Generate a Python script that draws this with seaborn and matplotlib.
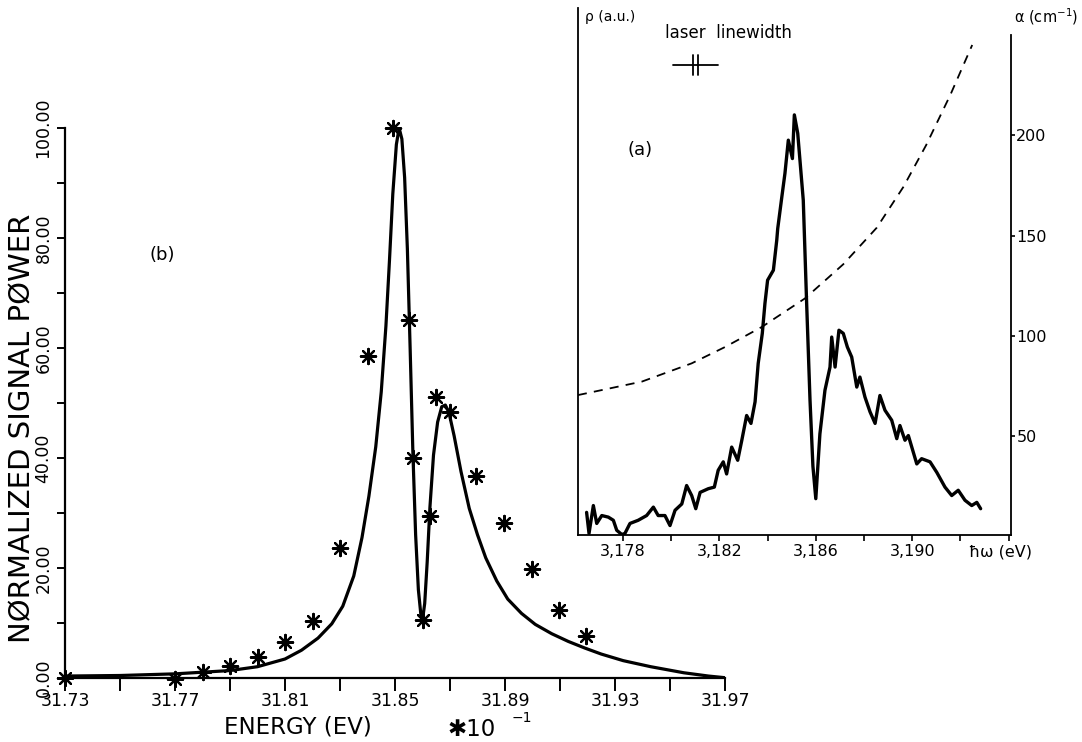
import matplotlib
matplotlib.use("Agg")
import matplotlib.pyplot as plt
import seaborn as sns
from matplotlib.lines import Line2D

# (b) fitted normalized signal power (solid curve)
fit_energy = [31.730, 31.750, 31.770, 31.780, 31.790, 31.800, 31.810, 31.816, 31.822, 31.827,
              31.831, 31.835, 31.838, 31.8405, 31.843, 31.845, 31.8467, 31.848, 31.8492, 31.8505,
              31.8515, 31.8525, 31.8535, 31.8545, 31.8555, 31.8565, 31.8575, 31.8585, 31.8594, 31.8600,
              31.8608, 31.8617, 31.8627, 31.8640, 31.8655, 31.8670, 31.8683, 31.8696, 31.8715, 31.8740,
              31.8770, 31.8800, 31.8830, 31.8870, 31.8910, 31.8960, 31.9010, 31.9070, 31.9130, 31.9190,
              31.9250, 31.9330, 31.9430, 31.9550, 31.9640, 31.9700]
fit_power = [0.3, 0.4, 0.7, 1.0, 1.3, 2.0, 3.4, 5.0, 7.2, 9.8,
             13.0, 18.5, 25.5, 33.0, 42.0, 52.0, 64.0, 76.0, 88.0, 97.0,
             100.0, 98.0, 91.0, 78.0, 60.0, 41.0, 26.0, 16.0, 11.5, 10.5,
             13.5, 21.0, 31.0, 40.5, 46.5, 49.3, 49.6, 48.3, 44.0, 37.5,
             30.8, 26.0, 21.8, 17.6, 14.3, 11.7, 9.7, 8.0, 6.6, 5.4,
             4.3, 3.1, 2.0, 0.9, 0.3, 0.0]

# (b) measured points (stars)
meas_energy = [31.730, 31.770, 31.780, 31.790, 31.800, 31.810, 31.820, 31.830, 31.840, 31.8494,
               31.8552, 31.8565, 31.8600, 31.8626, 31.8649, 31.8699, 31.8795, 31.8896, 31.8997,
               31.9096, 31.9196]
meas_power = [0.0, -0.3, 1.1, 2.2, 3.8, 6.5, 10.4, 23.6, 58.6, 100.0,
              65.0, 40.0, 10.5, 29.5, 51.0, 48.4, 36.7, 28.2, 19.8, 12.3, 7.5]

# (a) measured spectrum rho (a.u.)
spec_energy = [3.17649, 3.17659, 3.17677, 3.17691, 3.17712, 3.17739, 3.17760, 3.17774, 3.17795, 3.17808,
               3.17829, 3.17863, 3.17898, 3.17926, 3.17946, 3.17974, 3.17995, 3.18016, 3.18044, 3.18064,
               3.18085, 3.18102, 3.18120, 3.18154, 3.18179, 3.18195, 3.18216, 3.18230, 3.18251, 3.18276,
               3.18293, 3.18313, 3.18331, 3.18348, 3.18361, 3.18378, 3.18389, 3.18400, 3.18424, 3.18438,
               3.18442, 3.18459, 3.18472, 3.18486, 3.18503, 3.18511, 3.18525, 3.18548, 3.18562, 3.18576,
               3.18588, 3.18600, 3.18617, 3.18638, 3.18659, 3.18666, 3.18680, 3.18696, 3.18714, 3.18731,
               3.18749, 3.18770, 3.18783, 3.18804, 3.18825, 3.18846, 3.18866, 3.18887, 3.18915, 3.18936,
               3.18949, 3.18970, 3.18984, 3.19019, 3.19039, 3.19074, 3.19102, 3.19136, 3.19164, 3.19191,
               3.19219, 3.19247, 3.19268, 3.19284]
spec_rho = [4.2, 0.2, 5.5, 2.1, 3.6, 3.3, 2.7, 0.8, 0.0, 0.2,
            2.1, 2.7, 3.6, 5.2, 3.6, 3.6, 1.7, 4.6, 5.8, 9.3,
            7.4, 4.9, 8.0, 8.7, 9.0, 12.2, 13.8, 11.5, 16.6, 14.1,
            17.9, 22.6, 21.1, 25.2, 32.5, 38.2, 43.9, 48.3, 50.2, 55.9,
            58.1, 64.1, 68.6, 74.9, 71.4, 79.7, 76.2, 63.5, 43.9, 25.5,
            13.0, 6.8, 19.1, 27.4, 31.8, 37.5, 31.8, 38.8, 38.2, 35.6,
            33.7, 28.0, 29.9, 26.1, 23.3, 21.1, 26.4, 23.6, 21.7, 18.2,
            20.7, 17.9, 18.8, 13.4, 14.4, 13.8, 11.8, 9.0, 7.4, 8.4,
            6.5, 5.5, 6.1, 4.9]

# (a) absorption coefficient alpha (cm^-1), dashed
abs_energy = [3.17613, 3.17878, 3.18085, 3.18223, 3.18376, 3.18555, 3.18714, 3.18853, 3.18963,
              3.19058, 3.19158, 3.19249]
abs_alpha = [70.6, 77.3, 86.4, 94.5, 104.5, 118.7, 135.7, 153.9, 174.1, 195.0, 219.9, 244.8]

main_xticks = [31.73, 31.77, 31.81, 31.85, 31.89, 31.93, 31.97]
main_xminor = [31.75, 31.79, 31.83, 31.87, 31.91, 31.95]
main_xlabels = ["31.73", "31.77", "31.81", "31.85", "31.89", "31.93", "31.97"]
main_yticks = [0, 20, 40, 60, 80, 100]
main_yminor = [10, 30, 50, 70, 90]
main_ylabels = ["0.00", "20.00", "40.00", "60.00", "80.00", "100.00"]

inset_xticks = [3.178, 3.182, 3.186, 3.190]
inset_xminor = [3.180, 3.184, 3.188, 3.192, 3.194]
inset_xlabels = ["3,178", "3,182", "3,186", "3,190"]
alpha_ticks = [50, 100, 150, 200]

sns.set_theme(style="white")
plt.rcParams["font.family"] = ["DejaVu Sans"]
plt.rcParams["axes.edgecolor"] = "black"
plt.rcParams["text.color"] = "black"
plt.rcParams["xtick.color"] = "black"
plt.rcParams["ytick.color"] = "black"

W, H = 1082, 742
fig = plt.figure(figsize=(W / 100, H / 100), dpi=100)


def fx(px):
    return px / W


def fy(py):
    return 1 - py / H


# ---- main panel (b)
ax = fig.add_axes([fx(65), fy(677.7), (725 - 65) / W, (677.7 - 128) / H])
sns.lineplot(x=fit_energy, y=fit_power, ax=ax, color="black", lw=2.3,
             estimator=None, sort=False)
sns.scatterplot(x=meas_energy, y=meas_power, ax=ax, marker=(8, 2, 0), s=120,
                color="black", linewidths=1.6, clip_on=False, zorder=3)
ax.set_xlim(31.73, 31.97)
ax.set_ylim(0, 100)
ax.spines[["top", "right"]].set_visible(False)
for s in ["left", "bottom"]:
    ax.spines[s].set_linewidth(1.6)
ax.set_xticks(main_xticks)
ax.set_xticks(main_xminor, minor=True)
ax.set_xticklabels(main_xlabels, fontsize=12.5)
ax.set_yticks(main_yticks)
ax.set_yticks(main_yminor, minor=True)
ax.set_yticklabels(main_ylabels, fontsize=12.5, rotation=90, va="center")
ax.tick_params(axis="x", which="both", bottom=True, direction="out", length=9,
               width=1.4, pad=1)
ax.tick_params(axis="y", which="both", left=True, direction="out", length=6,
               width=1.4, pad=3)
ax.set_xlabel("")
ax.set_ylabel("")

fig.text(fx(22), fy(428), "NØRMALIZED SIGNAL PØWER", rotation=90, fontsize=21,
         ha="center", va="center")
fig.text(fx(298), fy(727), "ENERGY (EV)", fontsize=16.5, ha="center", va="center")
fig.text(fx(472), fy(729), "✱10", fontsize=16.5, ha="center", va="center")
fig.text(fx(512), fy(718), "−1", fontsize=10, ha="left", va="center")
fig.text(fx(162), fy(255), "(b)", fontsize=13, ha="center", va="center")

# ---- inset panel (a)
ax2 = fig.add_axes([fx(578), fy(534.5), (1010.7 - 578) / W, (534.5 - 8) / H])
ax2.patch.set_alpha(0)
sns.lineplot(x=spec_energy, y=spec_rho, ax=ax2, color="black", lw=2.4,
             estimator=None, sort=False)
ax2.set_xlim(3.176133, 3.194087)
ax2.set_ylim(0, 100)
ax2.spines[["top", "right"]].set_visible(False)
for s in ["left", "bottom"]:
    ax2.spines[s].set_linewidth(1.3)
ax2.set_yticks([])
ax2.set_xticks(inset_xticks)
ax2.set_xticks(inset_xminor, minor=True)
ax2.set_xticklabels(inset_xlabels, fontsize=11.5)
ax2.tick_params(axis="x", which="both", bottom=True, direction="out", length=4,
                width=1.2, pad=3)
ax2.set_xlabel("")
ax2.set_ylabel("")

ax3 = ax2.twinx()
sns.lineplot(x=abs_energy, y=abs_alpha, ax=ax3, color="black", lw=1.3,
             linestyle=(0, (5, 4)), estimator=None, sort=False)
ax3.set_ylim(1.24, 263.2)
for s in ["left", "top", "bottom"]:
    ax3.spines[s].set_visible(False)
ax3.spines["right"].set_linewidth(1.3)
ax3.spines["right"].set_bounds(1.24, 250)
ax3.set_yticks(alpha_ticks)
ax3.set_yticklabels([str(t) for t in alpha_ticks], fontsize=11.5)
ax3.tick_params(axis="y", right=True, direction="out", length=3, width=1.2, pad=1)
ax3.set_ylabel("")

fig.text(fx(585), fy(17), "ρ (a.u.)", fontsize=10, ha="left", va="center")
fig.text(fx(1014), fy(17), "α (cm$^{-1}$)", fontsize=10.5, ha="left", va="center")
fig.text(fx(728), fy(33), "laser  linewidth", fontsize=12, ha="center", va="center")
fig.add_artist(Line2D([fx(673), fx(718)], [fy(65), fy(65)], transform=fig.transFigure,
                      color="black", lw=1.3))
for bx in [693, 697.5]:
    fig.add_artist(Line2D([fx(bx), fx(bx)], [fy(55), fy(75)], transform=fig.transFigure,
                          color="black", lw=1.3))
fig.text(fx(640), fy(150), "(a)", fontsize=13, ha="center", va="center")
fig.text(fx(969), fy(552), "ħω (eV)", fontsize=11.5, ha="left", va="center")

fig.savefig("out.png", dpi=100)
plt.close(fig)
